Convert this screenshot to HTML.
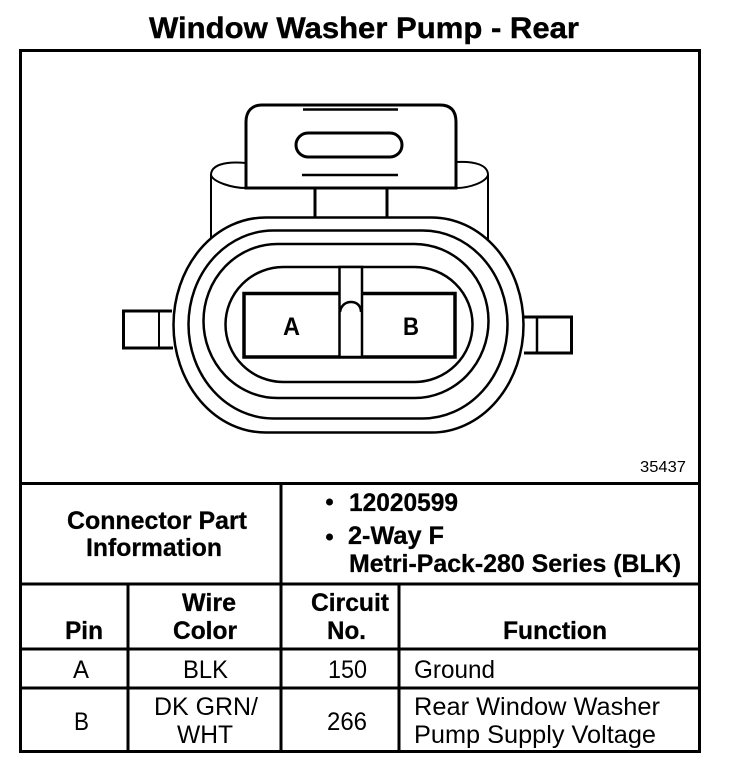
<!DOCTYPE html>
<html>
<head>
<meta charset="utf-8">
<style>
html,body{margin:0;padding:0;background:#fff;width:736px;height:774px;overflow:hidden}
svg{display:block}
text{font-family:"Liberation Sans",sans-serif;fill:#000}
.b{font-weight:bold;font-size:25px;stroke:#000;stroke-width:.3px}
.r{font-size:25px}
</style>
</head>
<body>
<svg width="736" height="774" viewBox="0 0 736 774" xmlns="http://www.w3.org/2000/svg">
<text x="149" y="38" font-size="29.500" font-weight="bold" textLength="430" lengthAdjust="spacingAndGlyphs" style="stroke:#000;stroke-width:.4px">Window Washer Pump - Rear</text>

<g fill="none" stroke="#000" stroke-width="3">
<rect x="20.500" y="50.500" width="679" height="701"/>
<path d="M20 483.500H700M20 584H700M20 649H700M20 688H700"/>
<path d="M281 484V649M128 584V751M281 649V751M399 584V751"/>
</g>

<g fill="none" stroke="#000">
<!-- back shell -->
<g stroke-width="2">
<path d="M246 163 C225 161 211 165 211 175 V241"/>
<path d="M211 175 C213 182 232 188 246 188"/>
<path d="M456 162 C475 161 488 165 488 175 V244"/>
<path d="M488 175 C486 182 470 188 456 188"/>
</g>
<!-- tab -->
<path stroke-width="3" fill="#fff" d="M246 188 V122 C246 111 252 105 262 105 H440 C451 105 456 111 456 122 V188 Z"/>
<path stroke-width="2.500" d="M303 109.500 H398 M302 175 H398"/>
<rect x="296" y="133" width="106" height="24" rx="12" ry="12" stroke-width="3"/>
<path stroke-width="3" d="M315 188V217M387 188V217"/>
<!-- side tabs -->
<path stroke-width="3" d="M172 311H123.500V348H173"/>
<path stroke-width="2" d="M159 311V348"/>
<path stroke-width="3" d="M524 317H571.500V353H524"/>
<path stroke-width="2.500" d="M537 317V353"/>
<!-- ovals -->
<rect x="173.500" y="217.500" width="350" height="215" rx="92" ry="107.500" stroke-width="2.500" fill="#fff"/>
<rect x="188.500" y="230.500" width="319" height="188" rx="85" ry="94" stroke-width="2.500"/>
<rect x="203.500" y="244" width="285" height="154" rx="74" ry="77" stroke-width="2.500"/>
<rect x="225.500" y="267" width="247" height="115" rx="58" ry="57.500" stroke-width="2.500"/>
<!-- pins -->
<rect x="244" y="293.500" width="211" height="63.500" stroke-width="3.500"/>
<rect x="339.500" y="267" width="22.500" height="90" stroke-width="2.500" fill="#fff"/>
<path stroke-width="2.500" d="M340 312 C341 305 346 302 351 302 C356 302 361 305 361 312"/>
</g>
<text x="283" y="335" font-size="25" font-weight="bold" textLength="17" lengthAdjust="spacingAndGlyphs">A</text>
<text x="403" y="335" font-size="25" font-weight="bold" textLength="16" lengthAdjust="spacingAndGlyphs">B</text>
<text x="640" y="472" font-size="15.500" textLength="46" lengthAdjust="spacingAndGlyphs">35437</text>

<text class="b" x="67" y="529" textLength="180" lengthAdjust="spacingAndGlyphs">Connector Part</text>
<text class="b" x="86" y="556" textLength="136" lengthAdjust="spacingAndGlyphs">Information</text>
<circle cx="329.500" cy="502" r="3.500"/>
<circle cx="329.500" cy="537" r="3.500"/>
<text class="b" x="349" y="511" textLength="109" lengthAdjust="spacingAndGlyphs">12020599</text>
<text class="b" x="348" y="544" textLength="96" lengthAdjust="spacingAndGlyphs">2-Way F</text>
<text class="b" x="349" y="572" textLength="332" lengthAdjust="spacingAndGlyphs">Metri-Pack-280 Series (BLK)</text>

<text class="b" x="65" y="639" textLength="38" lengthAdjust="spacingAndGlyphs">Pin</text>
<text class="b" x="182" y="611" textLength="54" lengthAdjust="spacingAndGlyphs">Wire</text>
<text class="b" x="173" y="639" textLength="64" lengthAdjust="spacingAndGlyphs">Color</text>
<text class="b" x="311" y="611" textLength="78" lengthAdjust="spacingAndGlyphs">Circuit</text>
<text class="b" x="327" y="639" textLength="39" lengthAdjust="spacingAndGlyphs">No.</text>
<text class="b" x="503" y="639" textLength="104" lengthAdjust="spacingAndGlyphs">Function</text>

<text class="r" x="73" y="678" textLength="16" lengthAdjust="spacingAndGlyphs">A</text>
<text class="r" x="183" y="678" textLength="45" lengthAdjust="spacingAndGlyphs">BLK</text>
<text class="r" x="328" y="678" textLength="39" lengthAdjust="spacingAndGlyphs">150</text>
<text class="r" x="414" y="678" textLength="81" lengthAdjust="spacingAndGlyphs">Ground</text>

<text class="r" x="74" y="730" textLength="15" lengthAdjust="spacingAndGlyphs">B</text>
<text class="r" x="154" y="715" textLength="104" lengthAdjust="spacingAndGlyphs">DK GRN/</text>
<text class="r" x="177" y="743" textLength="56" lengthAdjust="spacingAndGlyphs">WHT</text>
<text class="r" x="327" y="730" textLength="40" lengthAdjust="spacingAndGlyphs">266</text>
<text class="r" x="414" y="715" textLength="246" lengthAdjust="spacingAndGlyphs">Rear Window Washer</text>
<text class="r" x="414" y="743" textLength="242" lengthAdjust="spacingAndGlyphs">Pump Supply Voltage</text>
</svg>
</body>
</html>
